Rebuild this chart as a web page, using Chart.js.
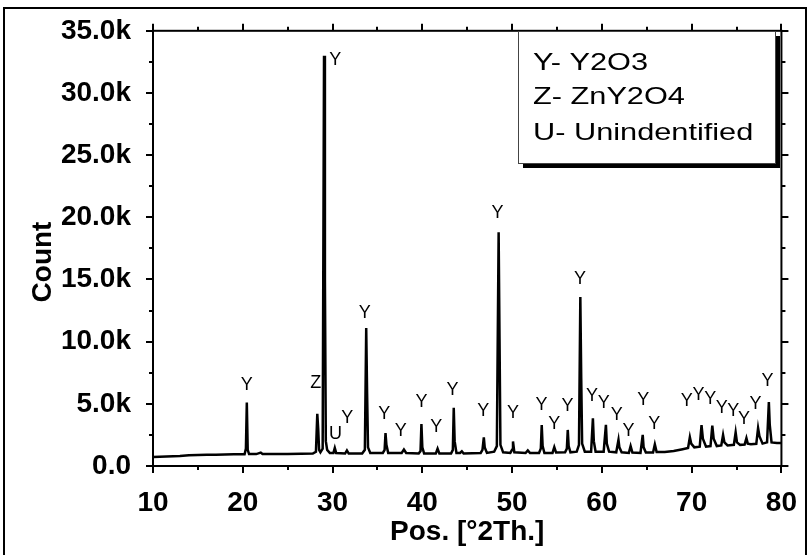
<!DOCTYPE html>
<html>
<head>
<meta charset="utf-8">
<script src="https://cdn.jsdelivr.net/npm/chart.js@4/dist/chart.umd.min.js"></script>
<style>
    html, body { margin: 0; padding: 0; background: #fff; }
    #wrap { width: 809px; height: 555px; position: relative; }
</style>
</head>
<body>
<div id="wrap"><canvas id="xrdChart" width="809" height="555"></canvas></div>
<script>
// XRD pattern

// Diffraction profile: 2theta (deg) and counts
const twoTheta = [
    10.0, 11.5, 13.0, 14.0, 15.0, 16.0, 17.0, 18.0, 19.0, 20.2, 20.35, 20.45, 20.55, 20.7,
    21.5, 22.0, 22.2, 23.5, 25.0, 26.5, 27.8, 28.15, 28.3, 28.4, 28.5, 28.65, 28.9, 29.05,
    29.15, 29.25, 29.4, 29.7, 30.1, 30.25, 30.4, 31.4, 31.6, 31.8, 33.3, 33.6, 33.75, 33.85,
    33.95, 34.2, 35.6, 35.8, 35.9, 36.0, 36.2, 37.7, 37.95, 38.2, 39.6, 39.8, 39.9, 40.0,
    40.2, 41.5, 41.7, 41.9, 43.2, 43.4, 43.5, 43.6, 43.8, 44.2, 44.4, 44.6, 46.5, 46.7,
    46.85, 46.95, 47.2, 48.0, 48.3, 48.5, 48.6, 48.7, 49.0, 49.8, 50.0, 50.1, 50.25, 51.5,
    51.75, 52.0, 53.0, 53.2, 53.3, 53.4, 53.6, 54.5, 54.7, 54.9, 55.9, 56.1, 56.2, 56.3,
    56.5, 57.2, 57.45, 57.6, 57.7, 57.8, 58.1, 58.8, 59.0, 59.1, 59.3, 60.2, 60.45, 60.55,
    60.8, 61.6, 61.85, 61.95, 62.2, 63.0, 63.2, 63.4, 64.3, 64.55, 64.65, 64.9, 65.7, 65.9,
    66.1, 67.0, 68.0, 69.0, 69.6, 69.8, 69.95, 70.3, 70.9, 71.1, 71.25, 71.6, 72.1, 72.3,
    72.45, 72.8, 73.3, 73.5, 73.65, 74.0, 74.7, 74.9, 75.05, 75.4, 75.9, 76.1, 76.25, 76.6,
    77.2, 77.4, 77.55, 77.9, 78.4, 78.6, 78.7, 78.9, 79.5, 80.0
];
const counts = [
    730, 760, 800, 860, 880, 900, 910, 930, 940, 950, 1400, 5100, 1300, 960,
    960, 1080, 960, 970, 960, 980, 1000, 1150, 4200, 3000, 1300, 1100, 1400, 33000,
    15000, 2000, 1300, 1050, 1050, 1450, 1050, 1000, 1250, 1000, 1000, 1300, 11100, 5800,
    1500, 1050, 1050, 1300, 2650, 1700, 1050, 1050, 1320, 1050, 1000, 1200, 3370, 1500,
    1000, 1000, 1400, 1000, 1000, 1300, 4680, 2000, 1050, 1050, 1180, 1000, 1050, 1300,
    2310, 1500, 1050, 1150, 1600, 18800, 10200, 1700, 1100, 1050, 1300, 1970, 1100, 1050,
    1260, 1050, 1050, 1400, 3290, 1600, 1050, 1050, 1520, 1080, 1100, 1400, 2900, 1600,
    1100, 1150, 1700, 13600, 7050, 1800, 1150, 1150, 3840, 2000, 1150, 1150, 3310, 1800,
    1150, 1100, 2100, 1500, 1100, 1050, 1600, 1080, 1050, 2500, 1500, 1080, 1080, 1740,
    1120, 1130, 1200, 1350, 1450, 2310, 1800, 1500, 1550, 3290, 2200, 1550, 1600, 3240,
    2200, 1600, 1650, 2500, 1900, 1650, 1700, 2710, 1900, 1700, 1720, 2240, 1800, 1750,
    1780, 3050, 2400, 1800, 1900, 5150, 3300, 1900, 1850, 1840
];

// Phase labels above the peaks
const labelText = ['Y', 'Z', 'Y', 'U', 'Y', 'Y', 'Y', 'Y', 'Y', 'Y', 'Y', 'Y', 'Y', 'Y', 'Y',
    'Y', 'Y', 'Y', 'Y', 'Y', 'Y', 'Y', 'Y', 'Y', 'Y', 'Y', 'Y', 'Y', 'Y', 'Y', 'Y', 'Y'];
const labelPos = [20.44, 28.12, 30.29, 30.32, 31.65, 33.6, 35.76, 37.6, 39.9, 41.55, 43.36,
    46.78, 48.37, 50.09, 53.28, 54.7, 56.16, 57.56, 58.9, 60.2, 61.67, 62.96, 64.61, 65.83,
    69.46, 70.75, 72.07, 73.36, 74.64, 75.82, 77.1, 78.46];
const labelCount = [6530, 6650, 32680, 2580, 3840, 12310, 4150, 2800, 5150, 3100, 6130,
    4420, 20340, 4290, 4940, 3370, 4810, 15070, 5600, 5080, 4080, 2840, 5340, 3370,
    5260, 5740, 5420, 4630, 4420, 3760, 4950, 6840];

// Legend entries
const legendLines = ['Y- Y2O3', 'Z- ZnY2O4', 'U- Unindentified'];

// Axis ticks
const xMin = 10, xMax = 80, xStep = 10, xMinor = 5;
const yMin = 0, yMax = 35000, yStep = 5000, yMinor = 2500;

const FONT = '"Liberation Sans", Arial, Helvetica, sans-serif';

// Frame, ticks on all four sides, peak labels, legend box, y title
const decorPlugin = {
    id: 'decor',
    afterDraw(chart) {
        const ctx = chart.ctx;
        const a = chart.chartArea;
        const xs = chart.scales.x;
        const ys = chart.scales.y;
        ctx.save();

        // outer picture frame
        ctx.strokeStyle = '#000';
        ctx.lineWidth = 2;
        ctx.strokeRect(4, 8, 802, 560);

        // plot box
        ctx.strokeRect(a.left, a.top, a.right - a.left, a.bottom - a.top);

        // tick marks (outward)
        ctx.beginPath();
        for (let v = xMin; v <= xMax; v += xMinor) {
            const px = Math.round(xs.getPixelForValue(v));
            const len = (v % xStep === 0) ? 7 : 4;
            ctx.moveTo(px, a.bottom); ctx.lineTo(px, a.bottom + len);
            ctx.moveTo(px, a.top); ctx.lineTo(px, a.top - len);
        }
        for (let v = yMin; v <= yMax; v += yMinor) {
            const py = Math.round(ys.getPixelForValue(v));
            const len = (v % yStep === 0) ? 7 : 4;
            ctx.moveTo(a.left, py); ctx.lineTo(a.left - len, py);
            ctx.moveTo(a.right, py); ctx.lineTo(a.right + len, py);
        }
        ctx.stroke();

        // y axis title
        ctx.fillStyle = '#000';
        ctx.font = 'bold 28px ' + FONT;
        ctx.textAlign = 'center';
        ctx.textBaseline = 'middle';
        ctx.save();
        ctx.translate(43, 262);
        ctx.rotate(-Math.PI / 2);
        ctx.fillText('Count', 0, 0);
        ctx.restore();

        // peak labels
        ctx.font = '18px ' + FONT;
        labelText.forEach((t, i) => {
            ctx.fillText(t, xs.getPixelForValue(labelPos[i]), ys.getPixelForValue(labelCount[i]));
        });

        // legend box with drop shadow
        const bx = 518, by = 31, bw = 257, bh = 132;
        ctx.fillStyle = '#000';
        ctx.fillRect(bx + 5, by + 5, bw, bh);
        ctx.fillStyle = '#fff';
        ctx.fillRect(bx, by, bw, bh);
        ctx.strokeStyle = '#444';
        ctx.lineWidth = 1;
        ctx.strokeRect(bx + 0.5, by + 0.5, bw, bh);

        ctx.fillStyle = '#000';
        ctx.font = '24px ' + FONT;
        ctx.textAlign = 'left';
        const rows = [63, 97, 133];
        legendLines.forEach((t, i) => {
            ctx.save();
            ctx.translate(533, rows[i]);
            ctx.scale(1.28, 1);
            ctx.fillText(t, 0, 0);
            ctx.restore();
        });

        ctx.restore();
    }
};

function initChart() {
    const ctx = document.getElementById('xrdChart');

    new Chart(ctx, {
        type: 'line',
        data: {
            datasets: [{
                label: 'XRD',
                data: twoTheta.map((t, i) => ({ x: t, y: counts[i] })),
                borderColor: '#000',
                borderWidth: 2.5,
                pointRadius: 0,
                tension: 0,
                fill: false
            }]
        },
        options: {
            responsive: false,
            animation: false,
            layout: {
                padding: { top: 23, right: 21, left: 0, bottom: 0 }
            },
            plugins: {
                legend: { display: false },
                tooltip: { enabled: false }
            },
            scales: {
                x: {
                    type: 'linear',
                    min: xMin,
                    max: xMax,
                    grid: { display: false },
                    border: { display: false },
                    ticks: {
                        stepSize: xStep,
                        color: '#000',
                        padding: 12,
                        maxRotation: 0,
                        font: { family: FONT, size: 28, weight: 'bold' }
                    },
                    title: {
                        display: true,
                        text: 'Pos. [°2Th.]',
                        color: '#000',
                        padding: { top: 0, bottom: 6 },
                        font: { family: FONT, size: 28, weight: 'bold' }
                    },
                    afterFit: (scale) => { scale.height = 89; }
                },
                y: {
                    min: yMin,
                    max: yMax,
                    grid: { display: false },
                    border: { display: false },
                    ticks: {
                        stepSize: yStep,
                        color: '#000',
                        padding: 14,
                        font: { family: FONT, size: 28, weight: 'bold' },
                        callback: (v) => v === 0 ? '0.0' : (v / 1000).toFixed(1) + 'k'
                    },
                    afterFit: (scale) => { scale.width = 153; }
                }
            }
        },
        plugins: [decorPlugin]
    });
}

document.addEventListener('DOMContentLoaded', initChart);
</script>
</body>
</html>
